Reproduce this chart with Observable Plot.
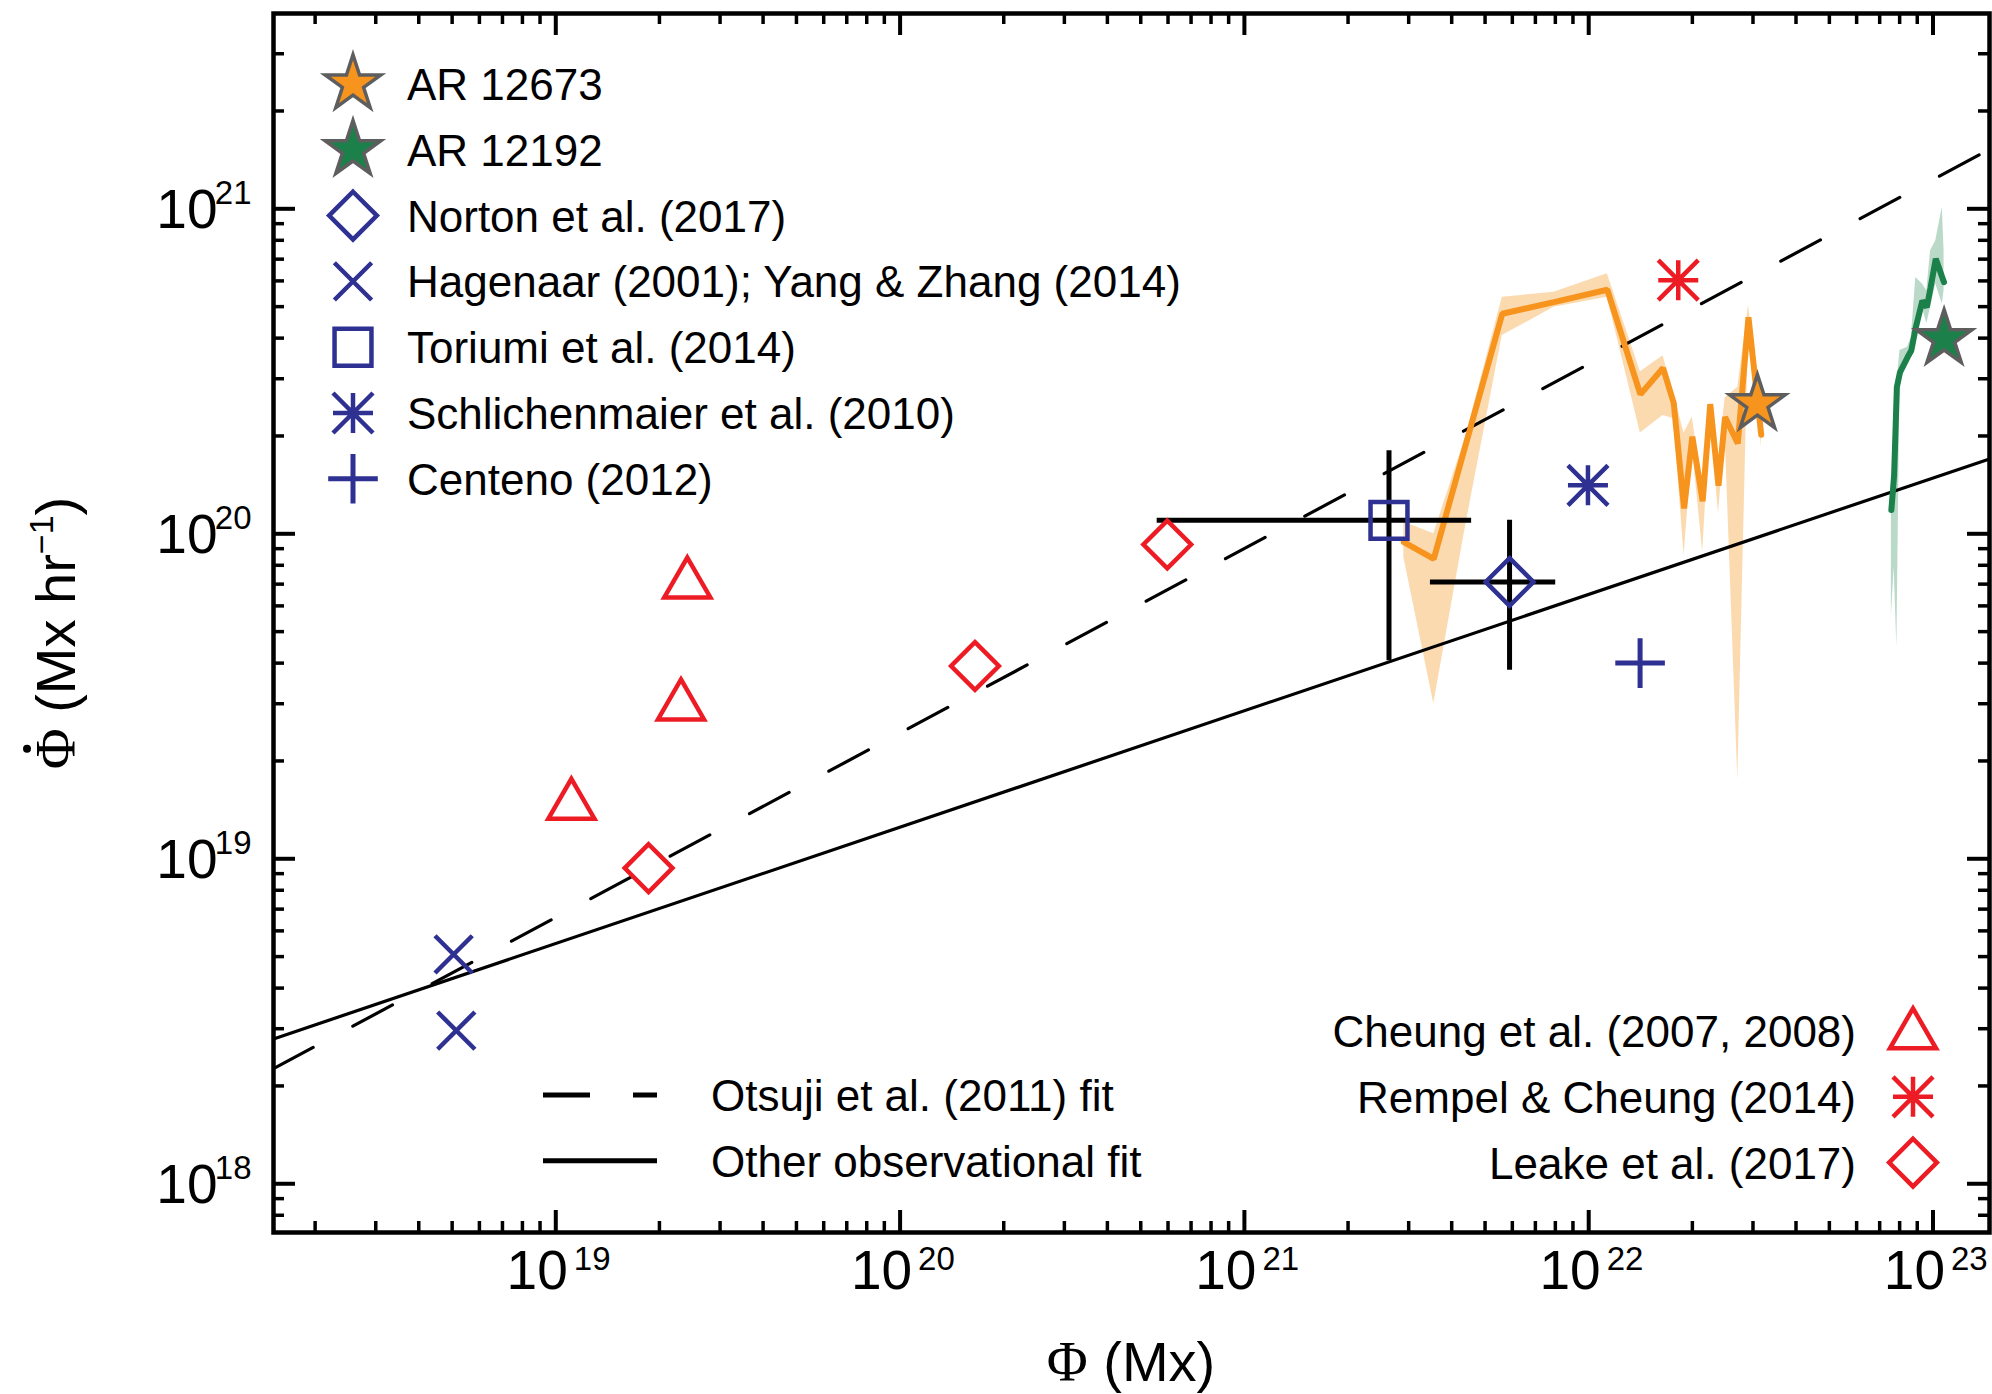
<!DOCTYPE html>
<html><head><meta charset="utf-8">
<script src="https://cdn.jsdelivr.net/npm/d3@7"></script>
<script src="https://cdn.jsdelivr.net/npm/@observablehq/plot@0.6"></script>
<style>
html,body{margin:0;padding:0;background:#fff;}
#chart svg{display:block;}
</style>
</head><body><div id="chart"></div>
<script>
// ---------------- DATA (Φ in Mx, dΦ/dt in Mx/hr) ----------------
const xDomain = [1.514e18, 1.459e23];
const yDomain = [7.08e17, 3.99e21];

const xMajor = [1e19, 1e20, 1e21, 1e22, 1e23];
const xExp = ["19", "20", "21", "22", "23"];
const yMajor = [1e18, 1e19, 1e20, 1e21];
const yExp = ["18", "19", "20", "21"];

const cheungX = [1.11e19, 2.31e19, 2.41e19];
const cheungY = [1.46e19, 2.95e19, 7.0e19];
const leakeX = [1.86e19, 1.65e20, 5.97e20];
const leakeY = [9.36e18, 3.92e19, 9.27e19];
const rempelX = [1.82e22];
const rempelY = [6.03e20];
const hagenaarX = [5.05e18, 5.14e18];
const hagenaarY = [5.08e18, 2.96e18];
const toriumiX = [2.63e21], toriumiXlo = [5.58e20], toriumiXhi = [4.57e21];
const toriumiY = [1.10e20], toriumiYlo = [4.07e19], toriumiYhi = [1.80e20];
const nortonX = [5.89e21], nortonXlo = [3.47e21], nortonXhi = [8.02e21];
const nortonY = [7.11e19], nortonYlo = [3.80e19], nortonYhi = [1.10e20];
const schlichX = [9.95e21], schlichY = [1.41e20];
const centenoX = [1.41e22], centenoY = [4.0e19];
const ar12673StarX = [3.09e22], ar12673StarY = [2.51e20];
const ar12192StarX = [1.077e23], ar12192StarY = [3.98e20];

// fits (end points)
const fitX = [1.514e18, 1.459e23];
const otsujiY = [2.26e18, 1.524e21];
const otherY = [2.79e18, 1.70e20];

// AR 12673 evolution (log10 values): flux, rate, band upper, band lower
const ar12673LogX  = [21.463,21.550,21.642,21.749,21.899,22.054,22.150,22.216,22.247,22.277,22.301,22.331,22.353,22.377,22.396,22.433,22.464,22.501];
const ar12673LogY  = [19.974,19.923,20.271,20.677,20.713,20.751,20.429,20.510,20.402,20.078,20.299,20.100,20.399,20.148,20.359,20.278,20.666,20.305];
const ar12673LogHi = [20.036,20.000,20.297,20.728,20.743,20.800,20.499,20.548,20.429,20.310,20.359,20.127,20.407,20.224,20.418,20.451,20.704,20.364];
const ar12673LogLo = [19.928,19.477,20.022,20.610,20.697,20.728,20.310,20.364,20.354,19.932,20.267,19.943,20.354,20.062,20.310,19.242,20.634,20.267];

// AR 12192 evolution (log10 values)
const ar12192LogX  = [22.879,22.887,22.895,22.904,22.926,22.937,22.950,22.969,22.982,22.993,23.008,23.027,23.032];
const ar12192LogY  = [20.073,20.179,20.451,20.497,20.543,20.564,20.635,20.717,20.697,20.758,20.846,20.789,20.774];
const ar12192LogHi = [20.092,20.194,20.461,20.564,20.574,20.605,20.789,20.769,20.748,20.871,20.902,21.005,20.871];
const ar12192LogLo = [19.743,19.897,19.651,20.471,20.523,20.553,20.605,20.697,20.646,20.697,20.769,20.707,20.748];

// ---------------- STYLE ----------------
const W = 1992, H = 1394;
const mL = 273, mR = 3, mT = 13, mB = 162;
const innerW = W - mL - mR, innerH = H - mT - mB;
const SANS = "'Liberation Sans', Arial, Helvetica, sans-serif";
const SERIF = "'Liberation Serif', 'Times New Roman', serif";
const ORANGE = "#F7941E", GREEN = "#1B8049", BLUE = "#2E3192", RED = "#ED1C24", GRAY = "#5e5e5e";

const pts = (xs, ys) => xs.map((x, i) => ({x, y: ys[i]}));
const p10 = v => Math.pow(10, v);
const series = (lx, ly, lhi, llo) => lx.map((v, i) => ({x: p10(v), y: p10(ly[i]), hi: p10(lhi[i]), lo: p10(llo[i])}));
const orangeData = series(ar12673LogX, ar12673LogY, ar12673LogHi, ar12673LogLo);
const greenData = series(ar12192LogX, ar12192LogY, ar12192LogHi, ar12192LogLo);

const asterisk8 = {
  draw(ctx, size) {
    const r = Math.sqrt(size / Math.PI);
    ctx.moveTo(-r, 0); ctx.lineTo(r, 0);
    ctx.moveTo(0, -r); ctx.lineTo(0, r);
    ctx.moveTo(-r, -r); ctx.lineTo(r, r);
    ctx.moveTo(-r, r); ctx.lineTo(r, -r);
  }
};

const minorTicks = (dom) => {
  const out = [];
  for (let e = 17; e <= 23; e++) for (let m = 2; m <= 9; m++) {
    const v = m * Math.pow(10, e);
    if (v > dom[0] && v < dom[1]) out.push(v);
  }
  return out;
};
const xMinor = minorTicks(xDomain);
const yMinor = minorTicks(yDomain);

const SW = 4.5;
const torData = [{x: toriumiX[0], y: toriumiY[0], xlo: toriumiXlo[0], xhi: toriumiXhi[0], ylo: toriumiYlo[0], yhi: toriumiYhi[0]},
                 {x: nortonX[0], y: nortonY[0], xlo: nortonXlo[0], xhi: nortonXhi[0], ylo: nortonYlo[0], yhi: nortonYhi[0]}];

const plot = Plot.plot({
  width: W, height: H,
  marginLeft: mL, marginRight: mR, marginTop: mT, marginBottom: mB,
  x: {type: "log", domain: xDomain, axis: null},
  y: {type: "log", domain: yDomain, axis: null},
  style: {fontFamily: SANS, background: "white", color: "black"},
  marks: [
    // uncertainty bands
    Plot.areaY(orangeData, {x: "x", y1: "lo", y2: "hi", fill: ORANGE, fillOpacity: 0.35}),
    Plot.areaY(greenData, {x: "x", y1: "lo", y2: "hi", fill: GREEN, fillOpacity: 0.3}),
    // fits
    Plot.line(pts(fitX, otsujiY), {x: "x", y: "y", stroke: "black", strokeWidth: 3.2, strokeDasharray: "45,45"}),
    Plot.line(pts(fitX, otherY), {x: "x", y: "y", stroke: "black", strokeWidth: 3.2}),
    // AR evolution lines
    Plot.line(orangeData, {x: "x", y: "y", stroke: ORANGE, strokeWidth: 6, strokeLinejoin: "miter"}),
    Plot.line(greenData, {x: "x", y: "y", stroke: GREEN, strokeWidth: 6, strokeLinejoin: "miter"}),
    // error bars
    Plot.ruleY(torData, {y: "y", x1: "xlo", x2: "xhi", stroke: "black", strokeWidth: 5}),
    Plot.ruleX(torData, {x: "x", y1: "ylo", y2: "yhi", stroke: "black", strokeWidth: 5}),
    // markers
    Plot.dot(pts(hagenaarX, hagenaarY), {x: "x", y: "y", symbol: "times", r: 17, stroke: BLUE, strokeWidth: SW, fill: "none"}),
    Plot.dot(pts(cheungX, cheungY), {x: "x", y: "y", symbol: "triangle2", r: 22, stroke: RED, strokeWidth: SW, fill: "none"}),
    Plot.dot(pts(leakeX, leakeY), {x: "x", y: "y", symbol: "diamond2", r: 21.5, stroke: RED, strokeWidth: SW, fill: "none"}),
    Plot.dot(pts(rempelX, rempelY), {x: "x", y: "y", symbol: asterisk8, r: 20, stroke: RED, strokeWidth: SW, fill: "none"}),
    Plot.dot(pts(toriumiX, toriumiY), {x: "x", y: "y", symbol: "square2", r: 23.5, stroke: BLUE, strokeWidth: SW, fill: "none"}),
    Plot.dot(pts(nortonX, nortonY), {x: "x", y: "y", symbol: "diamond2", r: 21.5, stroke: BLUE, strokeWidth: SW, fill: "none"}),
    Plot.dot(pts(schlichX, schlichY), {x: "x", y: "y", symbol: asterisk8, r: 20, stroke: BLUE, strokeWidth: SW, fill: "none"}),
    Plot.dot(pts(centenoX, centenoY), {x: "x", y: "y", symbol: "plus", r: 16, stroke: BLUE, strokeWidth: 5, fill: "none"}),
    Plot.dot(pts(ar12673StarX, ar12673StarY), {x: "x", y: "y", symbol: "star", r: 17.5, fill: ORANGE, stroke: GRAY, strokeWidth: 3.5}),
    Plot.dot(pts(ar12192StarX, ar12192StarY), {x: "x", y: "y", symbol: "star", r: 17.5, fill: GREEN, stroke: GRAY, strokeWidth: 3.5}),
    // frame & ticks (inward, all four sides)
    Plot.frame({stroke: "black", strokeWidth: 4.5}),
    Plot.tickX(xMajor, {insetTop: innerH - 22, stroke: "black", strokeWidth: 4}),
    Plot.tickX(xMajor, {insetBottom: innerH - 22, stroke: "black", strokeWidth: 4}),
    Plot.tickX(xMinor, {insetTop: innerH - 11, stroke: "black", strokeWidth: 3.5}),
    Plot.tickX(xMinor, {insetBottom: innerH - 11, stroke: "black", strokeWidth: 3.5}),
    Plot.tickY(yMajor, {insetRight: innerW - 22, stroke: "black", strokeWidth: 4}),
    Plot.tickY(yMajor, {insetLeft: innerW - 22, stroke: "black", strokeWidth: 4}),
    Plot.tickY(yMinor, {insetRight: innerW - 11, stroke: "black", strokeWidth: 3.5}),
    Plot.tickY(yMinor, {insetLeft: innerW - 11, stroke: "black", strokeWidth: 3.5}),
    // tick labels
    Plot.text(xMajor, {x: d => d, text: () => "10", frameAnchor: "bottom", textAnchor: "end", dx: 12, dy: 56, fontSize: 55, fill: "black"}),
    Plot.text(xMajor, {x: d => d, text: (d, i) => xExp[i], frameAnchor: "bottom", textAnchor: "start", dx: 18, dy: 37, fontSize: 33, fill: "black"}),
    Plot.text(yMajor, {y: d => d, text: () => "10", frameAnchor: "left", textAnchor: "end", dx: -56, dy: 2, fontSize: 55, fill: "black"}),
    Plot.text(yMajor, {y: d => d, text: (d, i) => yExp[i], frameAnchor: "left", textAnchor: "end", dx: -22, dy: -15, fontSize: 33, fill: "black"})
  ]
});
document.getElementById("chart").appendChild(plot);

// ---------------- legends & axis titles ----------------
const svg = d3.select(plot);
const symType = {star: d3.symbolStar, diamond2: d3.symbolDiamond2, times: d3.symbolTimes, square2: d3.symbolSquare2,
  ast: asterisk8, plus: d3.symbolPlus, triangle2: d3.symbolTriangle2};
function drawSym(g, cx, cy, e) {
  g.append("path")
    .attr("transform", `translate(${cx},${cy})`)
    .attr("d", d3.symbol().type(symType[e.sym]).size(Math.PI * e.r * e.r)())
    .attr("fill", e.fill || "none").attr("stroke", e.stroke).attr("stroke-width", e.sw || SW);
}
const legendTL = [
  {label: "AR 12673", sym: "star", r: 17.5, fill: ORANGE, stroke: GRAY, sw: 3.5},
  {label: "AR 12192", sym: "star", r: 17.5, fill: GREEN, stroke: GRAY, sw: 3.5},
  {label: "Norton et al. (2017)", sym: "diamond2", r: 21.5, stroke: BLUE},
  {label: "Hagenaar (2001); Yang & Zhang (2014)", sym: "times", r: 17, stroke: BLUE},
  {label: "Toriumi et al. (2014)", sym: "square2", r: 23.5, stroke: BLUE},
  {label: "Schlichenmaier et al. (2010)", sym: "ast", r: 20, stroke: BLUE},
  {label: "Centeno (2012)", sym: "plus", r: 16, stroke: BLUE, sw: 5}
];
const gl = svg.append("g").attr("font-family", SANS).attr("font-size", 44).attr("fill", "black")
  .attr("text-anchor", "start");
legendTL.forEach((e, i) => {
  const cy = 84 + i * 65.8;
  drawSym(gl, 353, cy, e);
  gl.append("text").attr("x", 407).attr("y", cy + 16).attr("text-anchor", "start").text(e.label);
});
const legendBR = [
  {label: "Cheung et al. (2007, 2008)", sym: "triangle2", r: 22, stroke: RED},
  {label: "Rempel & Cheung (2014)", sym: "ast", r: 20, stroke: RED},
  {label: "Leake et al. (2017)", sym: "diamond2", r: 21.5, stroke: RED}
];
legendBR.forEach((e, i) => {
  const cy = 1031 + i * 65.8;
  drawSym(gl, 1913, cy + (e.sym === "triangle2" ? 4 : 0), e);
  gl.append("text").attr("x", 1856).attr("y", cy + 16).attr("text-anchor", "end").text(e.label);
});
const legendBL = [
  {label: "Otsuji et al. (2011) fit", dash: "47,43"},
  {label: "Other observational fit", dash: null}
];
legendBL.forEach((e, i) => {
  const cy = 1095 + i * 65.8;
  const ln = gl.append("line").attr("x1", 543).attr("x2", 657).attr("y1", cy).attr("y2", cy)
    .attr("stroke", "black").attr("stroke-width", 5);
  if (e.dash) ln.attr("stroke-dasharray", e.dash);
  gl.append("text").attr("x", 711).attr("y", cy + 16).attr("text-anchor", "start").text(e.label);
});

// x axis title
const xt = svg.append("text").attr("x", mL + innerW / 2).attr("y", 1381).attr("text-anchor", "middle")
  .attr("font-family", SANS).attr("font-size", 56).attr("fill", "black");
xt.append("tspan").attr("font-family", SERIF).text("Φ");
xt.append("tspan").text(" (Mx)");

// y axis title (rotated)
const yg = svg.append("g").attr("transform", "translate(75,633) rotate(-90)");
const yt = yg.append("text").attr("x", 0).attr("y", 0).attr("text-anchor", "middle")
  .attr("font-family", SANS).attr("font-size", 56).attr("fill", "black");
yt.append("tspan").attr("font-family", SERIF).text("Φ");
yt.append("tspan").text(" (Mx hr");
yt.append("tspan").attr("font-size", 34).attr("dy", -22).text("−1");
yt.append("tspan").attr("dy", 22).text(")");
try {
  const ext = yt.node().getExtentOfChar(0);
  yg.append("circle").attr("cx", ext.x + ext.width / 2).attr("cy", ext.y + 2).attr("r", 4).attr("fill", "black");
} catch (err) {}
</script>
</body></html>
